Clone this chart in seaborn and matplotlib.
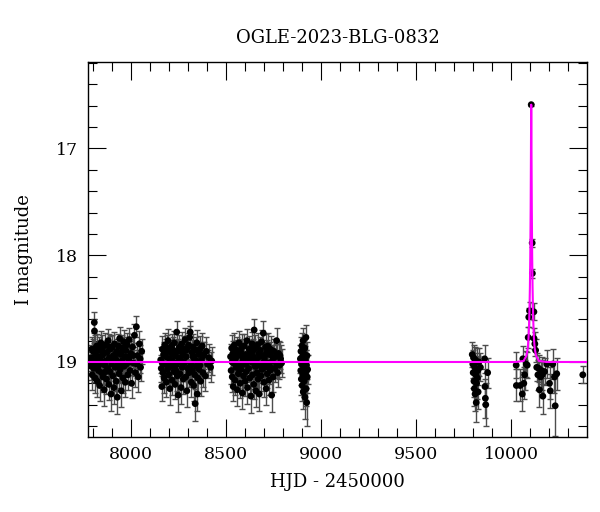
import numpy as np
import pandas as pd
import matplotlib
matplotlib.use("Agg")
import matplotlib.pyplot as plt
import seaborn as sns
from matplotlib.ticker import MultipleLocator

# (HJD-2450000, I mag, error), season by season
season1 = [
    (7790, 18.96, 0.12), (7793, 19.04, 0.13), (7795, 18.88, 0.11), (7798, 19.12, 0.14),
    (7800, 18.98, 0.12), (7803, 18.90, 0.12), (7806, 19.06, 0.13), (7809, 18.63, 0.10),
    (7810, 18.71, 0.11), (7813, 19.15, 0.14), (7816, 18.93, 0.12), (7819, 19.01, 0.12),
    (7822, 18.85, 0.11), (7825, 19.18, 0.15), (7828, 18.97, 0.12), (7831, 19.08, 0.13),
    (7834, 18.89, 0.12), (7837, 19.22, 0.15), (7840, 18.95, 0.12), (7843, 18.82, 0.11),
    (7846, 19.10, 0.13), (7849, 19.00, 0.12), (7852, 18.87, 0.12), (7855, 19.14, 0.14),
    (7858, 18.92, 0.12), (7861, 19.26, 0.15), (7864, 19.03, 0.13), (7867, 18.84, 0.11),
    (7870, 18.99, 0.12), (7873, 19.16, 0.14), (7876, 18.91, 0.12), (7879, 19.06, 0.13),
    (7882, 18.80, 0.11), (7885, 19.21, 0.15), (7888, 18.96, 0.12), (7891, 19.09, 0.13),
    (7894, 18.88, 0.12), (7897, 19.30, 0.16), (7900, 19.02, 0.12), (7903, 18.86, 0.11),
    (7906, 19.13, 0.14), (7909, 18.94, 0.12), (7912, 19.24, 0.15), (7915, 18.83, 0.11),
    (7918, 19.05, 0.13), (7921, 18.97, 0.12), (7924, 19.18, 0.14), (7927, 18.90, 0.12),
    (7930, 19.33, 0.16), (7933, 19.00, 0.12), (7936, 18.85, 0.11), (7939, 19.11, 0.13),
    (7942, 18.78, 0.11), (7945, 19.07, 0.13), (7948, 18.93, 0.12), (7951, 19.27, 0.15),
    (7954, 18.99, 0.12), (7957, 18.87, 0.12), (7960, 19.15, 0.14), (7963, 18.81, 0.11),
    (7966, 19.04, 0.13), (7969, 18.95, 0.12), (7972, 19.19, 0.14), (7975, 18.89, 0.12),
    (7978, 19.02, 0.12), (7981, 18.84, 0.11), (7985, 19.12, 0.14), (7989, 18.97, 0.12),
    (7993, 18.79, 0.11), (7997, 19.08, 0.13), (8001, 18.92, 0.12), (8005, 19.20, 0.14),
    (8010, 18.86, 0.12), (8015, 19.01, 0.12), (8020, 18.75, 0.11), (8025, 19.10, 0.13),
    (8030, 18.67, 0.10), (8035, 18.94, 0.12), (8040, 19.14, 0.14), (8046, 18.83, 0.12),
    (8052, 19.05, 0.13), (8058, 18.90, 0.12),
    (7797, 19.00, 0.12), (7815, 18.87, 0.12), (7833, 19.03, 0.12), (7851, 18.94, 0.12),
    (7869, 19.09, 0.13), (7887, 18.86, 0.12), (7905, 18.98, 0.12), (7923, 18.92, 0.12),
    (7941, 19.04, 0.13), (7959, 18.89, 0.12), (7977, 18.95, 0.12), (7995, 19.00, 0.12),
    (8013, 18.94, 0.12), (8032, 19.02, 0.13), (8050, 18.97, 0.13),
]

season2 = [
    (8158, 18.98, 0.12), (8161, 19.06, 0.13), (8164, 19.23, 0.14), (8167, 18.88, 0.12),
    (8170, 19.10, 0.13), (8173, 18.93, 0.12), (8176, 19.15, 0.14), (8179, 18.84, 0.11),
    (8182, 19.02, 0.12), (8185, 18.95, 0.12), (8188, 19.19, 0.14), (8191, 18.87, 0.12),
    (8194, 19.07, 0.13), (8197, 18.80, 0.11), (8200, 19.12, 0.13), (8203, 18.97, 0.12),
    (8206, 19.25, 0.15), (8209, 18.91, 0.12), (8212, 19.04, 0.13), (8215, 18.85, 0.11),
    (8218, 19.17, 0.14), (8221, 18.99, 0.12), (8224, 18.89, 0.12), (8227, 19.09, 0.13),
    (8230, 18.82, 0.11), (8233, 19.21, 0.14), (8236, 18.94, 0.12), (8239, 19.03, 0.12),
    (8242, 18.72, 0.10), (8245, 19.13, 0.14), (8248, 18.90, 0.12), (8250, 19.31, 0.16),
    (8253, 19.00, 0.12), (8256, 18.86, 0.11), (8259, 19.11, 0.13), (8262, 18.96, 0.12),
    (8265, 19.24, 0.15), (8268, 18.83, 0.11), (8271, 19.05, 0.13), (8274, 18.92, 0.12),
    (8277, 19.16, 0.14), (8280, 18.88, 0.12), (8283, 19.01, 0.12), (8286, 18.79, 0.11),
    (8289, 19.14, 0.14), (8292, 18.95, 0.12), (8295, 19.27, 0.15), (8298, 18.87, 0.12),
    (8301, 19.06, 0.13), (8304, 18.84, 0.11), (8307, 19.10, 0.13), (8310, 18.77, 0.11),
    (8313, 18.72, 0.10), (8316, 19.02, 0.12), (8319, 19.19, 0.14), (8322, 18.91, 0.12),
    (8325, 19.08, 0.13), (8328, 18.86, 0.12), (8331, 19.22, 0.15), (8334, 18.97, 0.12),
    (8337, 19.12, 0.13), (8339, 19.39, 0.16), (8342, 18.89, 0.12), (8345, 19.04, 0.13),
    (8348, 18.82, 0.12), (8350, 19.30, 0.16), (8353, 19.15, 0.14), (8356, 18.93, 0.12),
    (8360, 19.07, 0.13), (8364, 18.88, 0.12), (8368, 19.18, 0.14), (8372, 18.98, 0.12),
    (8376, 18.85, 0.12), (8380, 19.10, 0.13), (8386, 18.94, 0.13), (8392, 19.13, 0.14),
    (8398, 18.90, 0.13), (8404, 19.02, 0.13), (8412, 18.96, 0.13), (8420, 19.05, 0.14),
    (8426, 18.99, 0.13),
    (8166, 19.01, 0.12), (8184, 18.90, 0.12), (8202, 19.04, 0.12), (8220, 18.93, 0.12),
    (8238, 19.08, 0.13), (8256, 18.97, 0.12), (8274, 19.00, 0.12), (8292, 18.89, 0.12),
    (8310, 19.05, 0.13), (8328, 18.95, 0.12), (8346, 18.99, 0.12), (8364, 19.03, 0.13),
    (8382, 18.93, 0.12),
]

season3 = [
    (8525, 18.95, 0.12), (8528, 19.08, 0.13), (8531, 18.87, 0.12), (8534, 19.14, 0.14),
    (8537, 18.92, 0.12), (8539, 19.23, 0.14), (8542, 19.01, 0.12), (8545, 18.84, 0.11),
    (8548, 19.17, 0.14), (8551, 18.97, 0.12), (8554, 19.05, 0.13), (8557, 18.89, 0.12),
    (8560, 19.26, 0.15), (8563, 18.94, 0.12), (8566, 19.11, 0.13), (8569, 18.82, 0.11),
    (8572, 19.03, 0.12), (8575, 19.20, 0.14), (8578, 18.90, 0.12), (8581, 19.07, 0.13),
    (8584, 18.86, 0.12), (8587, 19.29, 0.15), (8590, 18.99, 0.12), (8593, 19.13, 0.14),
    (8596, 18.85, 0.11), (8599, 19.02, 0.12), (8602, 19.18, 0.14), (8605, 18.93, 0.12),
    (8608, 19.09, 0.13), (8611, 18.80, 0.11), (8614, 19.24, 0.15), (8617, 18.96, 0.12),
    (8620, 19.06, 0.13), (8623, 18.88, 0.12), (8626, 19.15, 0.14), (8629, 18.91, 0.12),
    (8632, 19.32, 0.16), (8635, 19.00, 0.12), (8638, 18.83, 0.11), (8641, 19.12, 0.13),
    (8644, 18.95, 0.12), (8647, 19.21, 0.14), (8649, 18.70, 0.10), (8652, 19.04, 0.13),
    (8655, 18.87, 0.12), (8658, 19.27, 0.15), (8661, 18.98, 0.12), (8664, 19.10, 0.13),
    (8667, 18.84, 0.11), (8670, 19.16, 0.14), (8673, 18.92, 0.12), (8676, 19.30, 0.16),
    (8679, 19.03, 0.12), (8682, 18.89, 0.12), (8685, 19.13, 0.14), (8688, 18.81, 0.11),
    (8691, 19.07, 0.13), (8694, 18.94, 0.12), (8697, 18.73, 0.11), (8700, 19.19, 0.14),
    (8703, 18.97, 0.12), (8706, 19.05, 0.13), (8709, 18.86, 0.12), (8712, 19.25, 0.15),
    (8715, 18.91, 0.12), (8718, 19.11, 0.13), (8721, 18.85, 0.12), (8724, 19.01, 0.12),
    (8727, 19.17, 0.14), (8730, 18.93, 0.12), (8733, 19.08, 0.13), (8736, 18.88, 0.12),
    (8741, 19.31, 0.16), (8745, 18.99, 0.12), (8749, 19.14, 0.14), (8753, 18.90, 0.12),
    (8757, 19.06, 0.13), (8762, 18.95, 0.12), (8767, 18.80, 0.12), (8772, 19.10, 0.13),
    (8777, 18.92, 0.12), (8782, 19.03, 0.13), (8788, 18.97, 0.13), (8793, 19.01, 0.13),
    (8533, 19.00, 0.12), (8551, 18.91, 0.12), (8569, 19.06, 0.13), (8587, 18.95, 0.12),
    (8605, 19.02, 0.12), (8623, 18.97, 0.12), (8641, 18.90, 0.12), (8659, 19.04, 0.13),
    (8677, 18.95, 0.12), (8695, 19.01, 0.12), (8713, 18.93, 0.12), (8731, 19.04, 0.13),
    (8749, 18.96, 0.12), (8767, 19.02, 0.13), (8785, 18.94, 0.13),
]

season4 = [
    (8892, 18.97, 0.13), (8894, 19.08, 0.14), (8895, 18.90, 0.13), (8897, 19.16, 0.15),
    (8898, 19.02, 0.13), (8900, 18.85, 0.12), (8901, 19.22, 0.15), (8903, 18.95, 0.13),
    (8904, 19.12, 0.14), (8906, 18.80, 0.12), (8907, 19.28, 0.16), (8909, 19.00, 0.13),
    (8910, 18.92, 0.13), (8912, 19.18, 0.15), (8913, 19.05, 0.14), (8915, 18.87, 0.12),
    (8916, 19.33, 0.20), (8918, 18.98, 0.13), (8919, 19.10, 0.14), (8921, 18.77, 0.12),
    (8922, 19.25, 0.16), (8924, 19.03, 0.14), (8925, 19.38, 0.22), (8927, 18.94, 0.13),
    (8928, 19.14, 0.15), (8930, 19.07, 0.14),
]

season5 = [
    (9795, 18.93, 0.12), (9798, 19.02, 0.13), (9800, 19.10, 0.14), (9802, 18.96, 0.12),
    (9804, 19.18, 0.15), (9806, 19.25, 0.16), (9808, 19.05, 0.13), (9810, 19.30, 0.16),
    (9812, 18.98, 0.12), (9814, 19.12, 0.14), (9816, 19.38, 0.18), (9818, 19.20, 0.15),
    (9820, 19.00, 0.13), (9822, 19.15, 0.14), (9824, 19.08, 0.14), (9826, 19.28, 0.16),
    (9830, 19.00, 0.13), (9838, 19.05, 0.13), (9860, 18.97, 0.13), (9862, 19.23, 0.16),
    (9864, 19.34, 0.18), (9866, 19.40, 0.20), (9876, 19.10, 0.14),
]

season6 = [
    (10026, 19.03, 0.12), (10027, 19.22, 0.15), (10047, 19.22, 0.15), (10058, 19.30, 0.16),
    (10061, 18.97, 0.12), (10066, 19.20, 0.15), (10070, 19.12, 0.14), (10079, 19.02, 0.12),
    (10084, 19.03, 0.12), (10089, 18.77, 0.10), (10092, 18.58, 0.09), (10096, 18.52, 0.08),
    (10105, 16.59, 0.01), (10110, 17.885, 0.04), (10111, 18.17, 0.04), (10119, 18.53, 0.08),
    (10120, 18.78, 0.10), (10124, 18.83, 0.11), (10128, 18.89, 0.11), (10134, 19.05, 0.13),
    (10140, 19.12, 0.14), (10145, 19.06, 0.13), (10148, 19.26, 0.16), (10154, 19.14, 0.14),
    (10159, 19.08, 0.13), (10163, 19.12, 0.14), (10166, 19.32, 0.17), (10175, 19.09, 0.13),
    (10187, 19.02, 0.13), (10201, 19.20, 0.15), (10205, 19.27, 0.16), (10218, 19.02, 0.14),
    (10227, 19.14, 0.15), (10231, 19.41, 0.28), (10239, 19.11, 0.15), (10376, 19.12, 0.08),
]

# microlensing model curve
model_hjd = [7770, 10025, 10065, 10080, 10087, 10091, 10094, 10096, 10098, 10100,
             10102, 10103.5, 10104.3, 10105, 10105.7, 10106.5, 10108, 10110, 10112,
             10114, 10116, 10119, 10123, 10130, 10145, 10185, 10400]
model_mag = [19.0, 19.0, 18.99, 18.94, 18.87, 18.77, 18.63, 18.49, 18.30, 18.02,
             17.56, 17.04, 16.73, 16.59, 16.73, 17.04, 17.56, 18.02, 18.30,
             18.49, 18.63, 18.77, 18.87, 18.94, 18.99, 19.0, 19.0]

seasons = [season1, season2, season3, season4, season5, season6]
df = pd.concat([pd.DataFrame(s, columns=["hjd", "mag", "err"]) for s in seasons],
               ignore_index=True)
model = pd.DataFrame({"hjd": model_hjd, "mag": model_mag})

sns.set_theme(style="ticks")
plt.rcParams["font.family"] = ["DejaVu Serif"]
plt.rcParams["text.color"] = "black"
plt.rcParams["axes.labelcolor"] = "black"
plt.rcParams["axes.edgecolor"] = "black"
plt.rcParams["axes.linewidth"] = 1.0

fig = plt.figure(figsize=(6, 5.12), dpi=100)
ax = fig.add_axes([0.1467, 0.147, 0.8313, 0.732])

eb = ax.errorbar(df["hjd"], df["mag"], yerr=df["err"], fmt="none", ecolor="0.3",
                 elinewidth=1.0, capsize=2.5, capthick=1.0, zorder=2)
for cap in eb[1]:
    cap.set_color("black")
sns.scatterplot(data=df, x="hjd", y="mag", s=24, color="black", edgecolor="none",
                ax=ax, zorder=3, legend=False)
sns.lineplot(data=model, x="hjd", y="mag", color="#ff00ff", lw=1.5, sort=False,
             estimator=None, ax=ax, zorder=4)

ax.set_xlim(7776, 10397)
ax.set_ylim(19.70, 16.19)
ax.xaxis.set_major_locator(MultipleLocator(500))
ax.xaxis.set_minor_locator(MultipleLocator(100))
ax.yaxis.set_major_locator(MultipleLocator(1))
ax.yaxis.set_minor_locator(MultipleLocator(0.2))
ax.tick_params(which="both", direction="in", top=True, right=True, colors="black")
ax.tick_params(which="major", length=13, width=0.8, labelsize=12.5, pad=7)
ax.tick_params(which="minor", length=6.5, width=0.8)

ax.set_xlabel("HJD - 2450000", fontsize=13, labelpad=7)
ax.set_ylabel("I magnitude", fontsize=13, labelpad=17)
ax.set_title("OGLE-2023-BLG-0832", fontsize=13, pad=14)

fig.savefig("out.png", dpi=100)
